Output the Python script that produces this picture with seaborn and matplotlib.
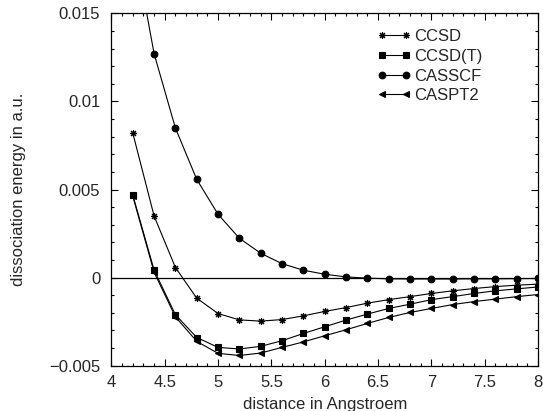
import numpy as np
import pandas as pd
import matplotlib
matplotlib.use("Agg")
import matplotlib.pyplot as plt
import seaborn as sns
from matplotlib.ticker import MultipleLocator, FuncFormatter
from matplotlib.legend_handler import HandlerLine2D

# --- data (distance in Angstroem, energy in a.u.) ---
distance = [4.2, 4.4, 4.6, 4.8, 5.0, 5.2, 5.4, 5.6, 5.8, 6.0,
            6.2, 6.4, 6.6, 6.8, 7.0, 7.2, 7.4, 7.6, 7.8, 8.0]

ccsd = [0.0082, 0.00349, 0.00057, -0.00117, -0.00204, -0.0024, -0.00247,
        -0.00238, -0.00217, -0.00192, -0.0017, -0.00145, -0.00125, -0.00108,
        -0.0009, -0.00075, -0.00062, -0.00051, -0.00043, -0.00037]

ccsd_t = [0.00468, 0.00042, -0.00211, -0.0034, -0.00396, -0.00405, -0.0039,
          -0.00358, -0.00317, -0.00279, -0.00241, -0.00207, -0.00175, -0.00151,
          -0.00125, -0.00108, -0.0009, -0.00075, -0.00064, -0.00053]

casscf = [0.0193, 0.0127, 0.00848, 0.00557, 0.00359, 0.00223, 0.00138,
          0.00079, 0.00042, 0.00019, 0.00004, -0.00003, -0.00007, -0.00008,
          -0.00008, -0.00008, -0.00007, -0.00007, -0.00006, -0.00005]

caspt2 = [0.00462, 0.0003, -0.00223, -0.00362, -0.0043, -0.00442, -0.00428,
          -0.00396, -0.00365, -0.0033, -0.00296, -0.0026, -0.00226, -0.00198,
          -0.00175, -0.00153, -0.00136, -0.00122, -0.00108, -0.00096]

methods = ["CCSD", "CCSD(T)", "CASSCF", "CASPT2"]
series = [ccsd, ccsd_t, casscf, caspt2]
marker_list = [(8, 2, 0), "s", "o", "<"]
marker_sizes = [5, 4.5, 4.8, 4.8]

sns.set_style("ticks")
plt.rcParams["font.family"] = ["Liberation Sans", "DejaVu Sans"]
plt.rcParams["font.size"] = 12

fig = plt.figure(figsize=(5.43, 4.11), dpi=100)
ax = fig.add_axes([0.2053, 0.1102, 0.7855, 0.8574])

ax.axhline(0, color="black", lw=0.9, zorder=1)

handles = []
for name, vals, mk, ms in zip(methods, series, marker_list, marker_sizes):
    d = pd.DataFrame({"distance": distance, "energy": vals})
    sns.lineplot(data=d, x="distance", y="energy", marker=mk,
                 color="black", linewidth=0.8, markersize=ms,
                 markeredgecolor="black", markeredgewidth=0.8,
                 legend=False, ax=ax)
    handles.append(ax.lines[-1])

ax.set_xlim(4, 8)
ax.set_ylim(-0.005, 0.015)
ax.xaxis.set_major_locator(MultipleLocator(0.5))
ax.xaxis.set_minor_locator(MultipleLocator(0.1))
ax.yaxis.set_major_locator(MultipleLocator(0.005))
ax.yaxis.set_minor_locator(MultipleLocator(0.001))

def fmt(v, pos):
    s = f"{v:.3f}".rstrip("0").rstrip(".")
    if abs(v) < 1e-12:
        s = "0"
    return s.replace("-", "\u2212")

ax.xaxis.set_major_formatter(FuncFormatter(fmt))
ax.yaxis.set_major_formatter(FuncFormatter(fmt))

ax.tick_params(which="both", direction="in", top=True, right=True,
               width=0.8, color="black", labelsize=12)
ax.tick_params(which="major", length=5)
ax.tick_params(which="minor", length=2.5)
ax.tick_params(axis="x", which="major", pad=6.5)
ax.tick_params(axis="y", which="major", pad=8)
for sp in ax.spines.values():
    sp.set_linewidth(0.9)
    sp.set_color("black")

ax.set_xlabel("distance in Angstroem", fontsize=12, labelpad=5)
ax.set_ylabel("dissociation energy in a.u.", fontsize=12, labelpad=17)

ax.legend(handles, methods, loc="upper left", bbox_to_anchor=(0.635, 0.955),
          frameon=False, numpoints=2, handlelength=1.44, handletextpad=0.48,
          labelspacing=0.28, borderpad=0, borderaxespad=0, fontsize=12,
          handler_map={h: HandlerLine2D(marker_pad=0) for h in handles})

fig.savefig("out.png", dpi=100)
